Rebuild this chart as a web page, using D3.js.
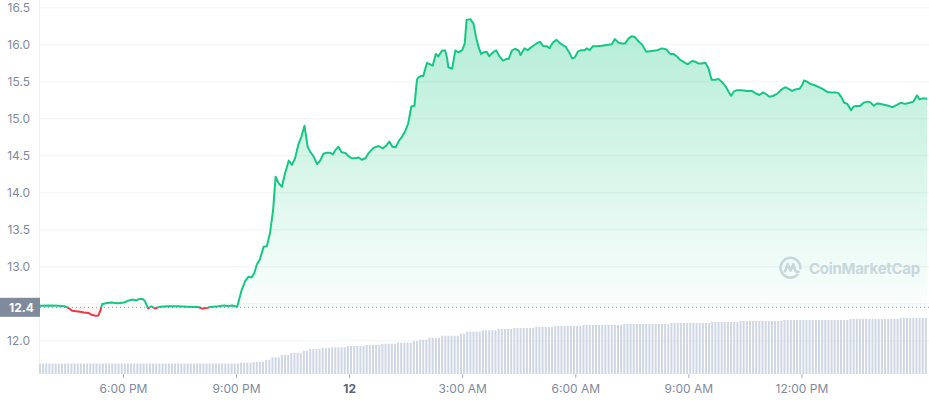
<!DOCTYPE html>
<html><head><meta charset="utf-8">
<script src="https://cdn.jsdelivr.net/npm/d3@7"></script>
<style>
html,body{margin:0;padding:0;background:#fff;}
svg{display:block;font-family:Inter,"Noto Sans",sans-serif;}
</style></head>
<body><svg id="chart" width="929" height="400"></svg>
<script>
// ---- data ----
const times = ["15:48","16:04","16:17","16:27","16:33","16:39","16:49","16:58","17:05","17:10","17:17","17:21","17:24","17:27","17:33","17:41","17:52","18:02","18:08","18:16","18:21","18:27","18:32","18:35","18:40","18:45","18:51","18:59","19:12","19:28","19:44","20:00","20:06","20:13","20:19","20:32","20:41","20:48","20:54","20:59","21:02",
"21:04","21:09","21:15","21:20","21:25","21:29","21:33","21:38","21:44","21:49","21:54","21:59","22:03","22:08","22:13","22:18","22:24","22:29","22:34","22:39","22:44","22:49","22:54","22:58","23:03","23:09","23:14","23:19","23:25","23:30","23:34","23:38","23:43","23:48","23:54","23:59",
"00:04","00:10","00:15","00:20","00:26","00:31","00:39","00:47","00:54","01:00","01:04","01:09","01:14","01:20","01:25","01:30","01:34","01:39","01:44","01:48","01:50","01:54","01:58","02:04","02:09","02:13","02:18","02:22","02:28","02:33","02:36","02:38","02:44","02:49","02:54","03:00","03:04","03:07","03:13","03:18","03:22","03:26","03:30","03:34","03:39","03:43","03:49","03:54","03:59",
"04:05","04:10","04:14","04:19","04:24","04:30","04:33","04:39","04:44","04:49","04:55","05:00","05:04","05:09","05:15","05:19","05:24","05:30","05:35","05:40","05:45","05:51","05:55","05:59","06:04","06:09","06:15","06:18","06:23","06:28","06:34","06:42","06:50","06:58","07:03","07:09","07:14","07:19","07:25","07:30","07:35","07:41","07:46","07:53","08:02","08:10","08:18","08:25","08:31","08:36","08:42","08:47","08:53","08:59",
"09:06","09:11","09:16","09:21","09:27","09:32","09:37","09:43","09:48","09:53","09:59","10:04","10:08","10:12","10:17","10:25","10:33","10:41","10:46","10:53","10:59","11:04","11:09","11:15","11:21","11:27","11:34","11:39","11:45","11:50","11:57","12:01","12:04","12:09","12:14","12:20","12:27","12:35","12:40","12:47","12:54","12:59","13:04","13:08","13:13","13:19","13:23","13:28","13:33","13:39","13:45","13:50","13:55","14:00","14:06","14:13","14:20","14:25","14:32","14:38","14:45","14:52","14:58","15:04","15:08","15:13","15:20"];
const prices = [12.468,12.47,12.468,12.46,12.44,12.40,12.39,12.375,12.37,12.345,12.33,12.335,12.40,12.49,12.50,12.51,12.50,12.51,12.535,12.55,12.54,12.56,12.555,12.53,12.43,12.46,12.43,12.455,12.46,12.46,12.455,12.45,12.43,12.435,12.45,12.46,12.47,12.465,12.47,12.46,12.455,
12.52,12.68,12.805,12.86,12.85,12.905,13.02,13.095,13.265,13.27,13.445,13.76,14.21,14.12,14.075,14.255,14.43,14.37,14.46,14.64,14.75,14.90,14.615,14.55,14.49,14.38,14.43,14.52,14.535,14.535,14.51,14.57,14.615,14.54,14.53,14.49,
14.46,14.46,14.47,14.44,14.46,14.53,14.60,14.625,14.595,14.64,14.685,14.615,14.61,14.705,14.76,14.84,14.93,15.16,15.17,15.52,15.55,15.57,15.57,15.75,15.73,15.71,15.87,15.835,15.915,15.915,15.81,15.69,15.67,15.915,15.89,15.92,16.01,16.33,16.34,16.28,16.10,15.965,15.87,15.89,15.90,15.84,15.89,15.92,15.84,
15.78,15.80,15.80,15.915,15.94,15.915,15.855,15.945,15.92,15.955,15.99,16.02,16.035,15.975,15.975,15.945,16.02,16.06,16.02,15.99,15.965,15.88,15.81,15.82,15.90,15.92,15.92,15.945,15.92,15.975,15.975,15.98,15.99,16.00,16.07,16.02,16.01,16.01,16.08,16.11,16.095,16.035,16.00,15.90,15.91,15.92,15.945,15.93,15.87,15.87,15.835,15.79,15.76,15.73,
15.775,15.765,15.74,15.74,15.75,15.675,15.52,15.52,15.53,15.495,15.435,15.36,15.305,15.36,15.38,15.38,15.37,15.37,15.345,15.315,15.35,15.325,15.29,15.305,15.33,15.38,15.42,15.40,15.37,15.39,15.40,15.45,15.51,15.495,15.465,15.45,15.425,15.39,15.36,15.35,15.35,15.34,15.28,15.21,15.195,15.11,15.16,15.165,15.165,15.21,15.225,15.215,15.17,15.20,15.195,15.18,15.165,15.15,15.18,15.21,15.195,15.21,15.225,15.31,15.255,15.27,15.265];
const basePrice = 12.446;          // reference (open) price, shown as "12.4"
const baseLabel = "12.4";
const volStart = "15:48";           // first 5-minute volume bar
const volumes = [ // 24h volume, millions (5-minute bars)
10.5,10.5,10.5,10.5,10.5,10.5,10.5,10.5,10.5,10.5,10.5,10.5,10.5,10.5,10.5,10.5,
10.5,10.5,10.5,10.5,10.5,10.5,10.5,10.5,10.5,10.5,10.5,10.5,10.5,10.5,10.5,10.5,
10.5,10.5,10.5,10.5,10.5,10.5,10.5,10.5,10.5,10.5,10.5,10.5,10.5,10.5,10.5,10.5,
10.5,10.5,10.5,10.5,10.5,10.5,10.5,10.5,10.5,10.5,10.5,10.5,10.5,10.5,10.5,10.5,
11.3,11.3,11.3,11.3,12.3,12.3,12.3,12.3,14,14,16.7,16.7,16.7,19,19,19,
21.3,21.3,21.3,21.3,23.3,23.3,25,25,25,25,26,26,26,26.7,26.7,26.7,26.7,26.7,
28,28,28,28,28,28,29,29,29,29,29,30.3,30.3,30.3,30.3,30.3,31.3,31.3,31.3,31.3,31.3,
33,33,34.3,34.3,34.3,36.3,36.3,36.3,36.3,38.3,38.3,38.3,38.3,38.3,38.3,40.3,40.3,
42.3,42.3,42.3,42.3,42.3,43.7,43.7,43.7,43.7,43.7,45,45,45,45,45,
46,46,46,46,46,46,46,47,47,47,47,47,47,48,48,48,48,48,48,48,48,48,
49,49,49,49,49,49,49,49,49,49,49,49,49,
50,50,50,50,50,50,50,50,50,50,50,50,50,50,50,
51,51,51,51,51,51,51,51,51,51,51,51,51,
52,52,52,52,52,52,52,52,52,
53,53,53,53,53,53,53,53,53,53,53,53,53,53,
54,54,54,54,54,54,54,54,54,54,54,54,54,54,54,54,54,54,54,54,54,
55,55,55,55,55,55,55,55,55,55,55,55,55,55,55,55,
56,56,56,56,56,56,56,56,56];
const yTicks = [12.0,12.5,13.0,13.5,14.0,14.5,15.0,15.5,16.0,16.5];
const yLabelHidden = [12.5];   // label hidden behind the base-price tag
const xTickTimes = ["18:00","21:00","00:00","03:00","06:00","09:00","12:00"];
const domainStart = "15:48", domainEnd = "15:23";

// ---- helpers ----
function parseSeq(arr){
  let day = 11, prev = -1;
  return arr.map(s=>{
    const [h,m] = s.split(":").map(Number);
    const mins = h*60+m;
    if (prev >= 0 && mins < prev) day++;
    prev = mins;
    return new Date(2022,2,day,h,m);
  });
}
function parseOne(s, day){ const [h,m]=s.split(":").map(Number); return new Date(2022,2,day,h,m); }

const tDates = parseSeq(times);
const data = tDates.map((d,i)=>({t:d, p:prices[i]}));
const v0 = parseOne(volStart, 11);
const volData = volumes.map((v,i)=>({t:new Date(v0.getTime()+i*5*60000), v}));

const svg = d3.select("#chart");
const W = 929, H = 400;
const x = d3.scaleTime().domain([parseOne(domainStart,11), parseOne(domainEnd,12)]).range([40, 929]);
const y = d3.scaleLinear().domain([12, 16.5]).range([340.3, 7.3]);
const yv = d3.scaleLinear().domain([0, 60]).range([374, 314]);
const green = "#16c784", red = "#ea3943";
const gridColor = "#eff2f5";
const textColor = "#808a9d";
const baseY = y(basePrice);

// defs
const defs = svg.append("defs");
const gG = defs.append("linearGradient").attr("id","gG").attr("gradientUnits","userSpaceOnUse")
  .attr("x1",0).attr("x2",0).attr("y1",y(16.4)).attr("y2",baseY);
gG.append("stop").attr("offset",0).attr("stop-color",green).attr("stop-opacity",0.33);
gG.append("stop").attr("offset",1).attr("stop-color",green).attr("stop-opacity",0.02);
const gR = defs.append("linearGradient").attr("id","gR").attr("gradientUnits","userSpaceOnUse")
  .attr("x1",0).attr("x2",0).attr("y1",baseY).attr("y2",y(12.2));
gR.append("stop").attr("offset",0).attr("stop-color",red).attr("stop-opacity",0.02);
gR.append("stop").attr("offset",1).attr("stop-color",red).attr("stop-opacity",0.2);
defs.append("clipPath").attr("id","above").append("rect").attr("x",0).attr("y",0).attr("width",W).attr("height",baseY);
defs.append("clipPath").attr("id","below").append("rect").attr("x",0).attr("y",baseY).attr("width",W).attr("height",H-baseY);

// grid + y axis
const yAxis = d3.axisLeft(y).tickValues(yTicks).tickSize(-(W-40))
  .tickFormat(d=> yLabelHidden.includes(d) ? "" : d.toFixed(1)).tickPadding(10);
const gy = svg.append("g").attr("transform","translate(40,0)").call(yAxis);
gy.select(".domain").remove();
gy.selectAll(".tick line").attr("stroke",gridColor).attr("stroke-width",1);
gy.selectAll(".tick text").attr("fill",textColor).attr("font-size",12).attr("font-family","Inter, sans-serif");
svg.append("line").attr("x1",39.5).attr("x2",39.5).attr("y1",0).attr("y2",374).attr("stroke",gridColor);

// volume bars
svg.append("g").selectAll("rect").data(volData).join("rect")
  .attr("x",d=>x(d.t)-1).attr("width",2)
  .attr("y",d=>yv(d.v)).attr("height",d=>yv(0)-yv(d.v))
  .attr("fill","#cfd6e4");

// watermark
const wm = svg.append("g").attr("fill","none").attr("stroke","#d3d8e2");
wm.append("path").attr("transform","translate(790.5,267.7)")
  .attr("d", d3.arc()({innerRadius:8.6,outerRadius:11.2,startAngle:Math.PI*0.72,endAngle:Math.PI*2.55}))
  .attr("fill","#d3d8e2").attr("stroke","none");
wm.append("path").attr("transform","translate(790.5,267.7)")
  .attr("d","M-5.5,3.5 L-2.8,-3.5 L0,3 L2.8,-3.5 L4.2,1.5 Q5.5,5 8,4")
  .attr("stroke-width",2.6).attr("stroke-linejoin","round").attr("stroke-linecap","round");
svg.append("text").attr("x",809).attr("y",273.5).attr("font-size",15).attr("font-weight",700)
  .attr("font-family","Inter, sans-serif").attr("fill","#d3d8e2").attr("letter-spacing",-0.3)
  .text("CoinMarketCap");

// area + line
const area = d3.area().x(d=>x(d.t)).y0(baseY).y1(d=>y(d.p)).curve(d3.curveLinear);
const line = d3.line().x(d=>x(d.t)).y(d=>y(d.p)).curve(d3.curveLinear);
svg.append("path").datum(data).attr("d",area).attr("fill","url(#gG)").attr("clip-path","url(#above)");
svg.append("path").datum(data).attr("d",area).attr("fill","url(#gR)").attr("clip-path","url(#below)");

// baseline dotted
svg.append("line").attr("x1",40).attr("x2",929).attr("y1",baseY).attr("y2",baseY)
  .attr("stroke","#8f97a6").attr("stroke-width",1).attr("stroke-dasharray","1,3");

svg.append("path").datum(data).attr("d",line).attr("fill","none").attr("stroke",green)
  .attr("stroke-width",2).attr("stroke-linejoin","round").attr("clip-path","url(#above)");
svg.append("path").datum(data).attr("d",line).attr("fill","none").attr("stroke",red)
  .attr("stroke-width",2).attr("stroke-linejoin","round").attr("clip-path","url(#below)");

// base price label
svg.append("rect").attr("x",0).attr("y",baseY-9.5).attr("width",40).attr("height",19).attr("fill","#808a9d");
svg.append("text").attr("x",9).attr("y",baseY+4.3).attr("fill","#fff").attr("font-size",12)
  .attr("font-weight",700).attr("font-family","Inter, sans-serif").text(baseLabel);

// x axis
const xVals = xTickTimes.map((s,i)=>parseOne(s, (s==="18:00"||s==="21:00")?11:12));
const xAxis = d3.axisBottom(x).tickValues(xVals).tickSize(4).tickPadding(6)
  .tickFormat(d=> (d.getHours()===0 && d.getMinutes()===0) ? d3.timeFormat("%-d")(d) : d3.timeFormat("%-I:%M %p")(d));
const gx = svg.append("g").attr("transform","translate(0,374)").call(xAxis);
gx.select(".domain").remove();
gx.selectAll(".tick line").attr("stroke","#a6b0c3");
gx.selectAll(".tick text").attr("font-size",12).attr("font-family","Inter, sans-serif")
  .attr("font-weight",d=>(d.getHours()===0)?700:400)
  .attr("fill",d=>(d.getHours()===0)?"#58667e":textColor);
</script></body></html>
